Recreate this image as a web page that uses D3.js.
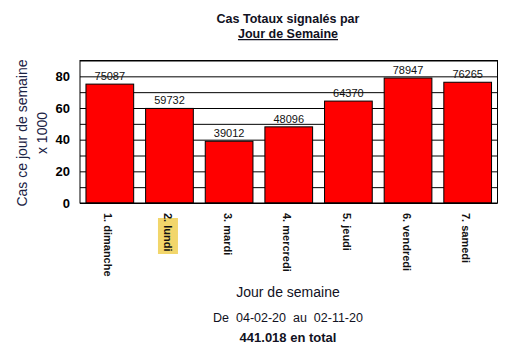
<!DOCTYPE html>
<html>
<head>
<meta charset="utf-8">
<script src="https://cdn.jsdelivr.net/npm/d3@7"></script>
<style>
  body { margin: 0; background: #fff; }
  text { font-family: "Liberation Sans", Arial, sans-serif; }
</style>
</head>
<body>
<svg id="chart" width="515" height="347"></svg>
<script>
// data
const days = ["1. dimanche", "2. lundi", "3. mardi", "4. mercredi", "5. jeudi", "6. vendredi", "7. samedi"];
const cases = [75087, 59732, 39012, 48096, 64370, 78947, 76265];
const yTicks = [0, 20, 40, 60, 80];
const gridTicks = [0, 10, 20, 30, 40, 50, 60, 70, 80, 90];
const highlightDay = "2. lundi";

const margin = {left: 80, top: 60.5, right: 17.5, bottom: 144};
const width = 515 - margin.left - margin.right;
const height = 347 - margin.top - margin.bottom;

const svg = d3.select("#chart");
const g = svg.append("g").attr("transform", `translate(${margin.left},${margin.top})`);

const x = d3.scaleBand().domain(days).range([0, width]).paddingInner(0.2).paddingOuter(0.1);
const y = d3.scaleLinear().domain([0, 90]).range([height, 0]);

// title
svg.append("text").attr("x", 288).attr("y", 23).attr("text-anchor", "middle")
  .attr("font-size", 12.5).attr("font-weight", "bold").attr("fill", "#111122")
  .text("Cas Totaux signalés par");
svg.append("text").attr("x", 288).attr("y", 38).attr("text-anchor", "middle")
  .attr("font-size", 12.5).attr("font-weight", "bold").attr("fill", "#111122")
  .attr("text-decoration", "underline")
  .text("Jour de Semaine");

// grid lines
g.append("g")
  .call(d3.axisLeft(y).tickValues(gridTicks).tickSize(-width).tickFormat(""))
  .call(a => a.select(".domain").remove())
  .call(a => a.selectAll("line").attr("stroke", "#000"));

// bars
g.selectAll("rect.bar").data(days).join("rect")
  .attr("class", "bar")
  .attr("x", d => x(d))
  .attr("y", (d, i) => y(cases[i] / 1000))
  .attr("width", x.bandwidth())
  .attr("height", (d, i) => height - y(cases[i] / 1000))
  .attr("fill", "#ff0000")
  .attr("stroke", "#000")
  .attr("stroke-width", 1);

// value labels
g.selectAll("text.val").data(days).join("text")
  .attr("class", "val")
  .attr("x", d => x(d) + x.bandwidth() / 2)
  .attr("y", (d, i) => y(cases[i] / 1000) - 4)
  .attr("text-anchor", "middle")
  .attr("font-size", 11)
  .attr("fill", "#111")
  .text((d, i) => cases[i]);

// frame
g.append("rect").attr("width", width).attr("height", height)
  .attr("fill", "none").attr("stroke", "#000").attr("stroke-width", 1);

// y axis labels
g.append("g")
  .call(d3.axisLeft(y).tickValues(yTicks).tickSize(0).tickPadding(10))
  .call(a => a.select(".domain").remove())
  .call(a => a.selectAll("text").attr("font-size", 13).attr("font-weight", "bold")
    .attr("fill", "#000").attr("font-family", "Liberation Sans, Arial, sans-serif"));

// x category labels (rotated)
const hl = x(highlightDay) + x.bandwidth() / 2;
g.append("rect").attr("x", hl - 11.5).attr("y", height + 15).attr("width", 20)
  .attr("height", 36).attr("fill", "#f2d66b");

g.selectAll("text.cat").data(days).join("text")
  .attr("class", "cat")
  .attr("transform", d => `translate(${x(d) + x.bandwidth() / 2 - 1.5},${height + 10}) rotate(90)`)
  .attr("dy", "0.35em")
  .attr("font-size", 11)
  .attr("font-weight", "bold")
  .attr("fill", "#111")
  .text(d => d);

// y title
svg.append("text")
  .attr("transform", "translate(27,133) rotate(-90)")
  .attr("text-anchor", "middle").attr("font-size", 14).attr("fill", "#1a2244")
  .text("Cas ce jour de semaine");
svg.append("text")
  .attr("transform", "translate(47,133) rotate(-90)")
  .attr("text-anchor", "middle").attr("font-size", 14).attr("fill", "#1a2244")
  .text("x 1000");

// x title and footer
svg.append("text").attr("x", 288).attr("y", 297).attr("text-anchor", "middle")
  .attr("font-size", 14).attr("fill", "#111122").text("Jour de semaine");
svg.append("text").attr("x", 288).attr("y", 322).attr("text-anchor", "middle")
  .attr("font-size", 12.5).attr("fill", "#111122")
  .style("white-space", "pre")
  .text("De  04-02-20  au  02-11-20");
svg.append("text").attr("x", 288).attr("y", 342).attr("text-anchor", "middle")
  .attr("font-size", 13).attr("font-weight", "bold").attr("fill", "#111122")
  .text("441.018 en total");
</script>
</body>
</html>
